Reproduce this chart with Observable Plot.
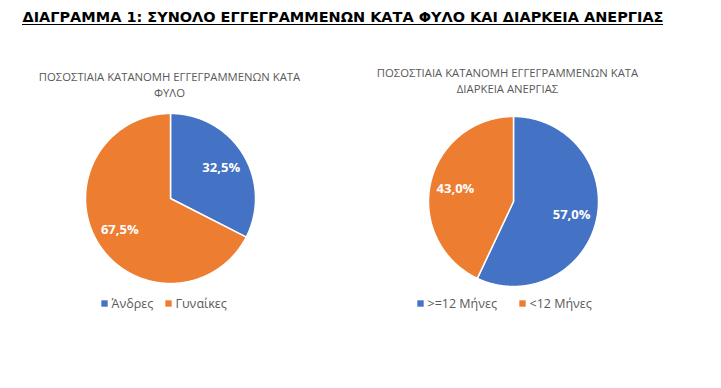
<!DOCTYPE html>
<html><head><meta charset="utf-8">
<script src="https://cdn.jsdelivr.net/npm/d3@7"></script>
<script src="https://cdn.jsdelivr.net/npm/@observablehq/plot@0.6"></script>
<style>body{margin:0;background:#fff}</style>
</head><body><div id="chart"></div>
<script>
const title = "ΔΙΑΓΡΑΜΜΑ 1: ΣΥΝΟΛΟ ΕΓΓΕΓΡΑΜΜΕΝΩΝ ΚΑΤΑ ΦΥΛΟ ΚΑΙ ΔΙΑΡΚΕΙΑ ΑΝΕΡΓΙΑΣ";
const subtitle1 = ["ΠΟΣΟΣΤΙΑΙΑ ΚΑΤΑΝΟΜΗ ΕΓΓΕΓΡΑΜΜΕΝΩΝ ΚΑΤΑ", "ΦΥΛΟ"];
const subtitle2 = ["ΠΟΣΟΣΤΙΑΙΑ ΚΑΤΑΝΟΜΗ ΕΓΓΕΓΡΑΜΜΕΝΩΝ ΚΑΤΑ", "ΔΙΑΡΚΕΙΑ ΑΝΕΡΓΙΑΣ"];
const categories1 = ["Άνδρες", "Γυναίκες"];
const values1 = [32.5, 67.5];
const labels1 = ["32,5%", "67,5%"];
const categories2 = [">=12 Μήνες", "<12 Μήνες"];
const values2 = [57.0, 43.0];
const labels2 = ["57,0%", "43,0%"];
const colors = ["#4472C4", "#ED7D31"];

const W = 721, H = 388;
const R = 85;
const pies = [
  {cx: 170, cy: 198, cats: categories1, vals: values1, labs: labels1, sub: subtitle1, subX: 169, subY: 77, legY: 303, legX: [104, 168]},
  {cx: 513, cy: 201, cats: categories2, vals: values2, labs: labels2, sub: subtitle2, subX: 507, subY: 73, legY: 303, legX: [420, 522]}
];

const slices = [], labelPts = [], subs = [], legSq = [], legTx = [];
pies.forEach((p, pi) => {
  const arcs = d3.pie().sort(null).value(d => d)(p.vals);
  arcs.forEach((a, i) => {
    const key = `p${pi}s${i}`;
    const n = Math.max(2, Math.ceil((a.endAngle - a.startAngle) / 0.01));
    slices.push({key, c: colors[i], x: p.cx, y: p.cy});
    for (let k = 0; k <= n; k++) {
      const t = a.startAngle + (a.endAngle - a.startAngle) * k / n;
      slices.push({key, c: colors[i], x: p.cx + R * Math.sin(t), y: p.cy - R * Math.cos(t)});
    }
    slices.push({key, c: colors[i], x: p.cx, y: p.cy});
    const m = (a.startAngle + a.endAngle) / 2;
    labelPts.push({x: p.cx + 0.7 * R * Math.sin(m), y: p.cy - 0.7 * R * Math.cos(m), t: p.labs[i]});
    legSq.push({x: p.legX[i], y: p.legY, c: colors[i]});
    legTx.push({x: p.legX[i] + 7, y: p.legY, t: p.cats[i]});
  });
  p.sub.forEach((s, j) => subs.push({x: p.subX, y: p.subY + j * 16, t: s}));
});

const chart = Plot.plot({
  width: W, height: H,
  margin: 0,
  x: {domain: [0, W], range: [0, W], axis: null},
  y: {domain: [0, H], range: [0, H], axis: null},
  style: {fontFamily: "Open Sans, sans-serif", background: "#fff"},
  marks: [
    Plot.line(slices, {x: "x", y: "y", z: "key", fill: d => d.c, stroke: "white", strokeWidth: 1.5, curve: "linear"}),
    Plot.text(labelPts, {x: "x", y: "y", text: "t", fill: "white", fontWeight: "bold", fontSize: 13, fontFamily: "Open Sans"}),
    Plot.text(subs, {x: "x", y: "y", text: "t", fill: "#595959", fontSize: 11.3, fontFamily: "Open Sans"}),
    Plot.dot(legSq, {x: "x", y: "y", fill: d => d.c, symbol: "square", r: 3.6}),
    Plot.text(legTx, {x: "x", y: "y", text: "t", fill: "#595959", fontSize: 12.5, textAnchor: "start", fontFamily: "Open Sans"}),
    Plot.text([title], {x: () => 22, y: () => 16.5, text: d => d, textAnchor: "start", fontWeight: "bold", fontSize: 14.5, fill: "#000", fontFamily: "DejaVu Sans Condensed", className: "maintitle"}),
    Plot.ruleY([title], {y: () => 24, x1: () => 22, x2: () => 663, stroke: "#000", strokeWidth: 1.2})
  ]
});
chart.querySelectorAll(".maintitle text").forEach(t => {
  t.setAttribute("textLength", 641);
  t.setAttribute("lengthAdjust", "spacingAndGlyphs");
});
document.getElementById("chart").append(chart);
</script></body></html>
